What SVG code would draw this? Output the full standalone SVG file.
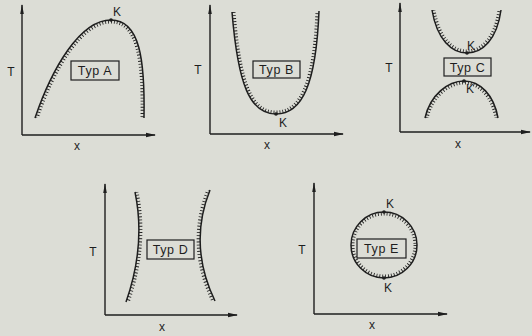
<svg xmlns="http://www.w3.org/2000/svg" width="532" height="336" viewBox="0 0 532 336">
<defs>
<style>
.bg{fill:#dcddd6}
.axis{stroke:#1e1e1e;stroke-width:1.4;fill:none}
.curve{stroke:#1e1e1e;stroke-width:1.5;fill:none}
.hatch{stroke:#1e1e1e;stroke-width:7;stroke-dasharray:0.9 2.2;fill:none}
.box{stroke:#1e1e1e;stroke-width:1.2;fill:none}
.lbl{font-family:"Liberation Sans",Arial,sans-serif;font-size:12px;fill:#1e1e1e;text-anchor:middle}
.typ{font-family:"Liberation Sans",Arial,sans-serif;font-size:12.5px;fill:#1e1e1e;text-anchor:middle;letter-spacing:0.6px}
.dot{fill:#1e1e1e}
</style>
<marker id="arrUp" viewBox="0 0 10 6" refX="9" refY="3" markerWidth="10" markerHeight="6" markerUnits="userSpaceOnUse" orient="auto">
<path d="M0,1.2 L10,3 L0,4.8 Z" fill="#1e1e1e"/>
</marker>
<marker id="arrX" viewBox="0 0 10 6" refX="9" refY="3" markerWidth="10" markerHeight="6" markerUnits="userSpaceOnUse" orient="auto">
<path d="M0,0.8 L10,3 L0,5.2 Z" fill="#1e1e1e"/>
</marker>
<clipPath id="clipA"><path d="M35,118 C52,68 80,20 111,20 C140,20 145,60 144,118 Z"/></clipPath>
<clipPath id="clipB"><path d="M232,12 C238,85 250,114 276,114 C302,114 316,85 319,11 Z"/></clipPath>
<clipPath id="clipC1"><path d="M432,10 C437,40 452,53 467,53 C482,53 497,40 501,10 Z"/></clipPath>
<clipPath id="clipC2"><path d="M425,118 C430,95 448,81 464,81 C480,81 494,95 498,118 Z"/></clipPath>
<clipPath id="clipD"><path d="M135,192 Q146,245 126,302 L215,301 Q188,245 210,190 Z"/></clipPath>
<clipPath id="clipE"><circle cx="384" cy="245" r="33"/></clipPath>
</defs>
<rect class="bg" x="0" y="0" width="532" height="336"/>

<g id="axes">
<path class="axis" d="M22,135 L22,5" marker-end="url(#arrUp)"/>
<path class="axis" d="M22,135 L155,135" marker-end="url(#arrX)"/>
<path class="axis" d="M210,134 L210,5" marker-end="url(#arrUp)"/>
<path class="axis" d="M210,134 L343,134" marker-end="url(#arrX)"/>
<path class="axis" d="M400,132 L400,3" marker-end="url(#arrUp)"/>
<path class="axis" d="M400,132 L530,132" marker-end="url(#arrX)"/>
<path class="axis" d="M105,315 L105,184" marker-end="url(#arrUp)"/>
<path class="axis" d="M105,315 L237,315" marker-end="url(#arrX)"/>
<path class="axis" d="M314,314 L314,183" marker-end="url(#arrUp)"/>
<path class="axis" d="M314,314 L447,314" marker-end="url(#arrX)"/>
<text class="lbl" x="11" y="76">T</text>
<text class="lbl" x="77" y="150">x</text>
<text class="lbl" x="198" y="74">T</text>
<text class="lbl" x="267" y="149">x</text>
<text class="lbl" x="389" y="72">T</text>
<text class="lbl" x="458" y="148">x</text>
<text class="lbl" x="93" y="256">T</text>
<text class="lbl" x="162" y="331">x</text>
<text class="lbl" x="302" y="254">T</text>
<text class="lbl" x="372" y="329">x</text>
</g>

<g id="typA">
<path class="hatch" clip-path="url(#clipA)" d="M35,118 C52,68 80,20 111,20 C140,20 145,60 144,118"/>
<path class="curve" d="M35,118 C52,68 80,20 111,20 C140,20 145,60 144,118"/>
<circle class="dot" cx="111" cy="20" r="1.8"/>
<text class="lbl" x="117" y="16">K</text>
<rect class="box" x="71" y="61" width="48" height="19"/>
<text class="typ" x="95" y="75">Typ A</text>
</g>

<g id="typB">
<path class="hatch" clip-path="url(#clipB)" d="M232,12 C238,85 250,114 276,114 C302,114 316,85 319,11"/>
<path class="curve" d="M232,12 C238,85 250,114 276,114 C302,114 316,85 319,11"/>
<circle class="dot" cx="276" cy="114" r="1.8"/>
<text class="lbl" x="283" y="127">K</text>
<rect class="box" x="253" y="61" width="47" height="17"/>
<text class="typ" x="276.5" y="74">Typ B</text>
</g>

<g id="typC">
<path class="hatch" clip-path="url(#clipC1)" d="M432,10 C437,40 452,53 467,53 C482,53 497,40 501,10"/>
<path class="curve" d="M432,10 C437,40 452,53 467,53 C482,53 497,40 501,10"/>
<path class="hatch" clip-path="url(#clipC2)" d="M425,118 C430,95 448,81 464,81 C480,81 494,95 498,118"/>
<path class="curve" d="M425,118 C430,95 448,81 464,81 C480,81 494,95 498,118"/>
<circle class="dot" cx="467" cy="53" r="1.8"/>
<circle class="dot" cx="464" cy="81" r="1.8"/>
<text class="lbl" x="471" y="50">K</text>
<text class="lbl" x="470" y="93">K</text>
<rect class="box" x="444" y="58" width="47" height="18"/>
<text class="typ" x="467.5" y="72">Typ C</text>
</g>

<g id="typD">
<path class="hatch" clip-path="url(#clipD)" d="M135,192 Q146,245 126,302"/>
<path class="curve" d="M135,192 Q146,245 126,302"/>
<path class="hatch" clip-path="url(#clipD)" d="M210,190 Q188,245 215,301"/>
<path class="curve" d="M210,190 Q188,245 215,301"/>
<rect class="box" x="147" y="240" width="47" height="19"/>
<text class="typ" x="170.5" y="254">Typ D</text>
</g>

<g id="typE">
<circle class="hatch" clip-path="url(#clipE)" cx="384" cy="245" r="33"/>
<circle class="curve" cx="384" cy="245" r="33"/>
<circle class="dot" cx="384" cy="212" r="1.8"/>
<circle class="dot" cx="384" cy="278" r="1.8"/>
<text class="lbl" x="390" y="208">K</text>
<text class="lbl" x="388" y="292">K</text>
<rect class="box" x="357" y="239" width="49" height="19"/>
<text class="typ" x="381.5" y="253">Typ E</text>
</g>
</svg>
